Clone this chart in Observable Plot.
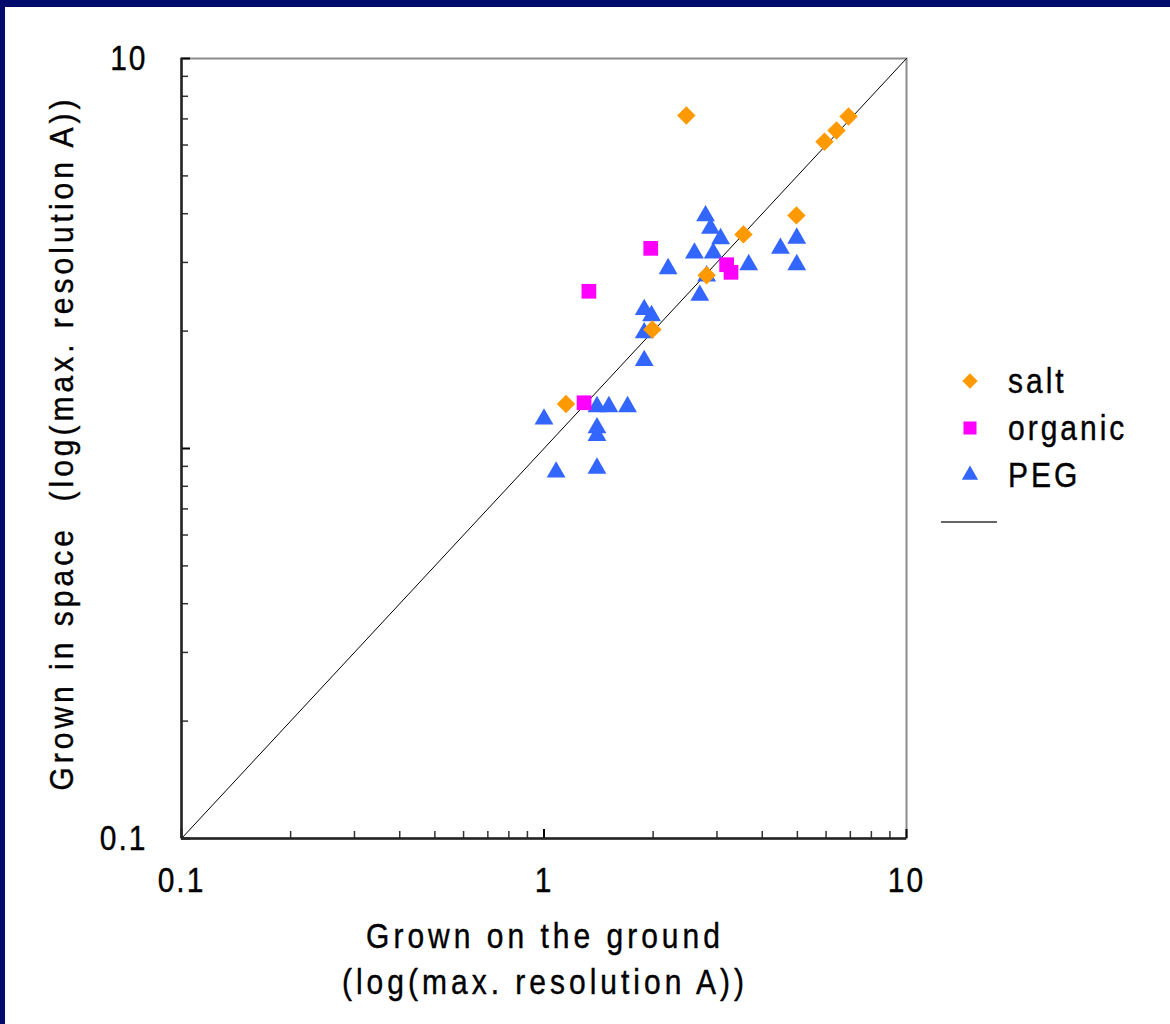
<!DOCTYPE html>
<html><head><meta charset="utf-8">
<script src="https://cdn.jsdelivr.net/npm/d3@7"></script>
<script src="https://cdn.jsdelivr.net/npm/@observablehq/plot@0.6"></script>
<style>
html,body{margin:0;padding:0;width:1170px;height:1024px;overflow:hidden;background:#000b6b;font-family:"Liberation Sans",Arial,Helvetica,sans-serif;}
#panel{position:absolute;left:5px;top:7px;right:0;bottom:0;background:#fff;}
#chart{position:absolute;left:0;top:0;}
#chart svg text{letter-spacing:2px;stroke:#000;stroke-width:0.35px;}
.title{position:absolute;color:#000;font-size:30px;letter-spacing:4px;white-space:pre;line-height:40px;text-align:center;-webkit-text-stroke:0.35px #000;}
#legend{position:absolute;left:930px;top:350px;}
</style></head><body>
<div id="panel"></div>
<div id="chart"></div>
<div id="xtitle" class="title"></div>
<div id="ytitle" class="title"></div>
<div id="legend"></div>
<script>
// ---- data ----
const categories = ["salt", "organic", "PEG"];
const colors = ["#ff9900", "#ff00ff", "#3366ff"];

const saltGround = [2.47, 5.94, 6.41, 6.92, 4.97, 3.55, 2.81, 1.99, 1.15];
const saltSpace  = [7.14, 6.12, 6.54, 7.10, 3.96, 3.54, 2.78, 2.02, 1.30];

const organicGround = [1.97, 1.33, 3.19, 3.28, 1.29];
const organicSpace  = [3.26, 2.53, 2.96, 2.83, 1.31];

const pegGround = [2.79, 2.88, 3.07, 2.60, 2.93, 2.20, 3.67, 4.49, 4.98, 4.98, 2.81, 2.69,
                   1.89, 1.98, 1.89, 1.89, 1.00, 1.40, 1.51, 1.70, 1.40, 1.40, 1.08, 1.40];
const pegSpace  = [3.95, 3.67, 3.45, 3.17, 3.17, 2.89, 2.96, 3.26, 3.46, 2.96, 2.77, 2.47,
                   2.27, 2.19, 1.98, 1.68, 1.19, 1.28, 1.28, 1.28, 1.13, 1.08, 0.87, 0.89];

const diagonal = [0.1, 10];
const majorTicks = [0.1, 1, 10];
const minorTicks = [0.2,0.3,0.4,0.5,0.6,0.7,0.8,0.9,2,3,4,5,6,7,8,9];
const xTickLabels = ["0.1", "1", "10"];
const yTickValues = [0.1, 10];
const yTickLabels = ["0.1", "10"];

const xTitle = "Grown on the ground\n(log(max. resolution A))";
const yTitle = "Grown in space  (log(max. resolution A))";

const toRows = (gx, sy) => gx.map((g, i) => ({ground: g, space: sy[i]}));
const salt = toRows(saltGround, saltSpace);
const organic = toRows(organicGround, organicSpace);
const peg = toRows(pegGround, pegSpace);
const diag = diagonal.map(v => ({ground: v, space: v}));

const tickStroke = "#333";
const plot = Plot.plot({
  width: 1170, height: 1024,
  marginLeft: 181, marginRight: 264, marginTop: 58, marginBottom: 186,
  style: {background: "transparent", fontFamily: "'Liberation Sans', Arial, sans-serif", fontSize: "30px", color: "#000", overflow: "visible"},
  x: {type: "log", domain: [0.1, 10]},
  y: {type: "log", domain: [0.1, 10]},
  marks: [
    Plot.frame({stroke: "#8c8c8c", strokeWidth: 2}),
    Plot.line(diag, {x: "ground", y: "space", stroke: "#000", strokeWidth: 1}),
    Plot.axisX({ticks: minorTicks, anchor: "bottom", tickSize: 7, dy: -7, fill: "none", label: null, stroke: tickStroke, strokeWidth: 1.5}),
    Plot.axisX({ticks: majorTicks, anchor: "bottom", tickSize: 9, dy: -9, fill: "none", label: null, stroke: "#000", strokeWidth: 2}),
    Plot.axisY({ticks: minorTicks, anchor: "left", tickSize: 7, dx: 7, fill: "none", label: null, stroke: tickStroke, strokeWidth: 1.5}),
    Plot.axisY({ticks: majorTicks, anchor: "left", tickSize: 9, dx: 9, fill: "none", label: null, stroke: "#000", strokeWidth: 2}),
    Plot.axisX({ticks: majorTicks, anchor: "bottom", tickSize: 0, tickPadding: 29, label: null, tickFormat: d => xTickLabels[majorTicks.indexOf(d)]}),
    Plot.axisY({ticks: yTickValues, anchor: "left", tickSize: 0, tickPadding: 34, label: null, tickFormat: d => yTickLabels[yTickValues.indexOf(d)]}),
    Plot.ruleX([0.1], {stroke: "#222", strokeWidth: 2.5}),
    Plot.ruleY([0.1], {stroke: "#222", strokeWidth: 2.5}),
    Plot.dot(peg, {x: "ground", y: "space", symbol: "triangle", r: 7, fill: colors[2], stroke: "none"}),
    Plot.dot(organic, {x: "ground", y: "space", symbol: "square", r: 8.3, fill: colors[1], stroke: "none"}),
    Plot.dot(salt, {x: "ground", y: "space", symbol: "diamond2", r: 8.3, fill: colors[0], stroke: "none"})
  ]
});
// stretch tick label glyphs vertically like the reference slide
d3.select(plot).selectAll("g[aria-label$='tick label'] text").each(function() {
  const t = this.getAttribute("transform") || "";
  this.setAttribute("transform", t + " scale(1,1.15)");
});
document.getElementById("chart").appendChild(plot);

// axis titles
const xt = document.getElementById("xtitle");
xt.textContent = xTitle;
xt.style.left = "0px"; xt.style.width = "1090px"; xt.style.top = "913px";
xt.style.transformOrigin = "50% 0"; xt.style.transform = "scale(1,1.15)";
const yt = document.getElementById("ytitle");
yt.textContent = yTitle;
yt.style.left = "62px"; yt.style.top = "443px";
yt.style.transform = "translate(-50%,-50%) rotate(-90deg) scale(1,1.1)";

// legend
const symbols = [d3.symbolDiamond2, d3.symbolSquare, d3.symbolTriangle];
const sizes = [150, 170, 115];
const lg = d3.select("#legend").append("svg").attr("width", 240).attr("height", 200);
categories.forEach((c, i) => {
  const g = lg.append("g").attr("transform", `translate(40,${31 + i * 47})`);
  g.append("path").attr("d", d3.symbol(symbols[i], sizes[i])()).attr("fill", colors[i]);
  g.append("text").attr("transform", "translate(38,12) scale(1,1.15)").text(c)
    .attr("font-family", "'Liberation Sans', Arial, sans-serif").attr("font-size", 30)
    .attr("letter-spacing", "3px").attr("fill", "#000").attr("stroke", "#000").attr("stroke-width", 0.35);
});
lg.append("line").attr("x1", 11).attr("x2", 67).attr("y1", 172).attr("y2", 172).attr("stroke", "#333").attr("stroke-width", 1.5);
</script>
</body></html>
